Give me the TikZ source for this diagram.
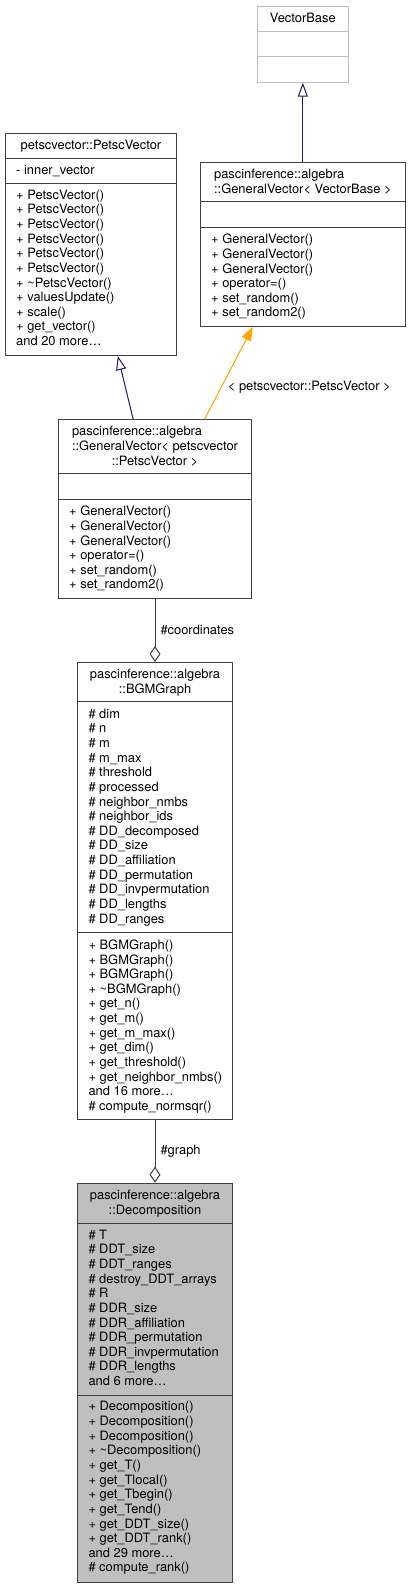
\documentclass[tikz,border=0pt]{standalone}
\usepackage{fontspec}
\setmainfont{TeX Gyre Heros}
\usepackage{tikz}
\usetikzlibrary{arrows.meta,positioning}
\definecolor{edgeNavy}{HTML}{191970}
\definecolor{edgeOrange}{HTML}{FFA500}
\definecolor{edgeGray}{HTML}{404040}
\definecolor{classGray}{HTML}{BFBFBF}
\definecolor{classBorder}{HTML}{404040}

\begin{document}
\begin{tikzpicture}[x=1pt,y=-1pt,
  font=\fontsize{12.9}{14.65}\selectfont,
  cls/.style={draw=classBorder,line width=1pt,anchor=north west,inner sep=0pt,fill=white},
  ext/.style={cls,draw=classGray},
  cur/.style={cls,fill=classGray},
  sep/.style={draw=classBorder,line width=1pt},
  members/.style={anchor=north west,inner sep=0pt,align=left},
  title/.style={anchor=north,inner sep=0pt,align=center},
  inherit/.style={draw=edgeNavy,line width=1pt,-{Triangle[open,length=14pt,width=10pt]}},
  templ/.style={draw=edgeOrange,line width=1pt,-{Triangle[length=14pt,width=10pt,fill=edgeOrange]}},
  aggr/.style={draw=edgeGray,line width=1pt,-{Diamond[open,length=16pt,width=11pt]}},
  lbl/.style={inner sep=0pt}]
\useasboundingbox (0,0) rectangle (411,1588);
% class boxes
\node[ext,minimum width=90.7pt,minimum height=76pt] (vb) at (257,5.7) {};
\node[cls,minimum width=171pt,minimum height=222.3pt] (pv) at (5,132.7) {};
\node[cls,minimum width=205.3pt,minimum height=163.4pt] (gvb) at (199.7,162.3) {};
\node[cls,minimum width=193pt,minimum height=178.4pt] (gvp) at (58,419.3) {};
\node[cls,minimum width=155pt,minimum height=457.3pt] (bg) at (77,662) {};
\node[cur,minimum width=155pt,minimum height=399pt] (dec) at (77,1182.7) {};
% compartments
\draw[sep,draw=classGray] (vb.west |- 0,31.7) -- (vb.east |- 0,31.7);
\draw[sep,draw=classGray] (vb.west |- 0,56.7) -- (vb.east |- 0,56.7);
\draw[sep] (pv.west |- 0,158) -- (pv.east |- 0,158);
\draw[sep] (pv.west |- 0,183) -- (pv.east |- 0,183);
\draw[sep] (gvb.west |- 0,201.7) -- (gvb.east |- 0,201.7);
\draw[sep] (gvb.west |- 0,227.3) -- (gvb.east |- 0,227.3);
\draw[sep] (gvp.west |- 0,473.7) -- (gvp.east |- 0,473.7);
\draw[sep] (gvp.west |- 0,499.3) -- (gvp.east |- 0,499.3);
\draw[sep] (bg.west |- 0,701.7) -- (bg.east |- 0,701.7);
\draw[sep] (bg.west |- 0,932.7) -- (bg.east |- 0,932.7);
\draw[sep] (dec.west |- 0,1223.3) -- (dec.east |- 0,1223.3);
\draw[sep] (dec.west |- 0,1395) -- (dec.east |- 0,1395);
% texts
\node[title] (vbT) at (vb.north |- 0,12.5) {VectorBase};
\node[title] (pvT) at (pv.north |- 0,139.5) {petscvector::PetscVector};
\node[members] (pvA) at (16,164.9) {- inner\_vector};
\node[members] (pvM) at (16,189.5) {+ PetscVector()\\+ PetscVector()\\+ PetscVector()\\+ PetscVector()\\+ PetscVector()\\+ PetscVector()\\+ \textasciitilde PetscVector()\\+ valuesUpdate()\\+ scale()\\+ get\_vector()\\and 20 more\ldots};
\node[title,align=left] (gvbT) at (gvb.north |- 0,168.9) {pascinference::algebra\\::GeneralVector< VectorBase >};
\node[members] (gvbM) at (211,233.9) {+ GeneralVector()\\+ GeneralVector()\\+ GeneralVector()\\+ operator=()\\+ set\_random()\\+ set\_random2()};
\node[title,align=left] (gvpT) at (gvp.north |- 0,426.2) {pascinference::algebra\\::GeneralVector< petscvector};
\node[title] (gvpT2) at (gvp.north |- 0,455.5) {::PetscVector >};
\node[members] (gvpM) at (69,505.9) {+ GeneralVector()\\+ GeneralVector()\\+ GeneralVector()\\+ operator=()\\+ set\_random()\\+ set\_random2()};
\node[title] (bgT) at (bg.north |- 0,668.9) {pascinference::algebra\\::BGMGraph};
\node[members] (bgA) at (88.3,708.5) {\# dim\\\# n\\\# m\\\# m\_max\\\# threshold\\\# processed\\\# neighbor\_nmbs\\\# neighbor\_ids\\\# DD\_decomposed\\\# DD\_size\\\# DD\_affiliation\\\# DD\_permutation\\\# DD\_invpermutation\\\# DD\_lengths\\\# DD\_ranges};
\node[members] (bgM) at (88.3,939.5) {+ BGMGraph()\\+ BGMGraph()\\+ BGMGraph()\\+ \textasciitilde BGMGraph()\\+ get\_n()\\+ get\_m()\\+ get\_m\_max()\\+ get\_dim()\\+ get\_threshold()\\+ get\_neighbor\_nmbs()\\and 16 more\ldots\\\# compute\_normsqr()};
\node[title] (decT) at (dec.north |- 0,1190.2) {pascinference::algebra\\::Decomposition};
\node[members] (decA) at (88.3,1229.5) {\# T\\\# DDT\_size\\\# DDT\_ranges\\\# destroy\_DDT\_arrays\\\# R\\\# DDR\_size\\\# DDR\_affiliation\\\# DDR\_permutation\\\# DDR\_invpermutation\\\# DDR\_lengths\\and 6 more\ldots};
\node[members] (decM) at (88.3,1401.2) {+ Decomposition()\\+ Decomposition()\\+ Decomposition()\\+ \textasciitilde Decomposition()\\+ get\_T()\\+ get\_Tlocal()\\+ get\_Tbegin()\\+ get\_Tend()\\+ get\_DDT\_size()\\+ get\_DDT\_rank()\\and 29 more\ldots\\\# compute\_rank()};
% relations
\draw[inherit] (gvb.north) -- (vb.south);
\draw[inherit] ([xshift=-21.8pt]gvp.north) -- ([xshift=26.8pt]pv.south);
\draw[templ] ([xshift=49.5pt]gvp.north) -- node[lbl,pos=.35,right=6pt] (lblTempl) {< petscvector::PetscVector >} ([xshift=-50pt]gvb.south);
\draw[aggr] (gvp.south) -- node[lbl,right=5pt] (lblCoord) {\#coordinates} (bg.north);
\draw[aggr] (bg.south) -- node[lbl,right=5pt] (lblGraph) {\#graph} (dec.north);
\end{tikzpicture}
\end{document}
